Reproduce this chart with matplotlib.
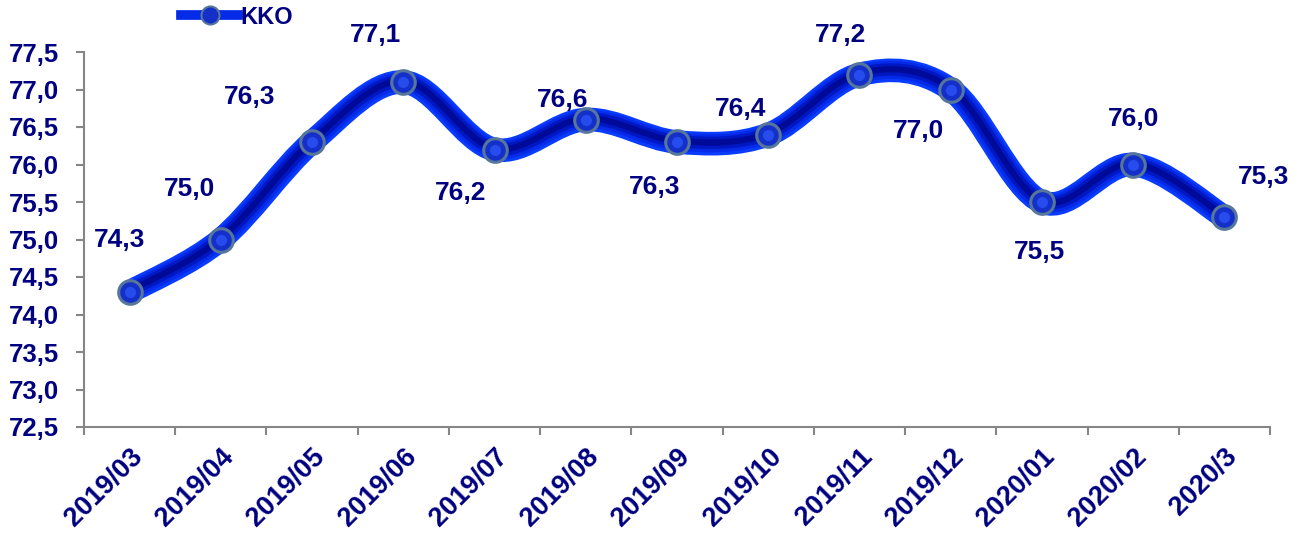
import numpy as np
import matplotlib.pyplot as plt
from matplotlib.path import Path
from matplotlib.patches import PathPatch
from matplotlib.lines import Line2D
import matplotlib.transforms as mtransforms

plt.rcParams['font.family'] = ['Liberation Sans', 'DejaVu Sans']

# data
months = ['2019/03', '2019/04', '2019/05', '2019/06', '2019/07', '2019/08', '2019/09',
          '2019/10', '2019/11', '2019/12', '2020/01', '2020/02', '2020/3']
kko = [74.3, 75.0, 76.3, 77.1, 76.2, 76.6, 76.3, 76.4, 77.2, 77.0, 75.5, 76.0, 75.3]
series_name = 'KKO'

# label offsets in pixels (dx, dy up)
lab_off = [(-10, 52), (-31, 50), (-62, 45), (-28, 47), (-34, -44), (-23, 20), (-22, -45),
           (-28, 25), (-19, 40), (-32, -41), (-2, -50), (0, 45), (39, 40)]

navy = '#000080'

fig = plt.figure(figsize=(13, 5.35), dpi=100)
ax = fig.add_axes([84/1300, 1 - 427/535, (1270 - 84)/1300, (427 - 52)/535])

x = np.arange(len(kko))
y = np.array(kko)

# smooth curve as cubic bezier (catmull-rom style control points)
verts = [(x[0], y[0])]
codes = [Path.MOVETO]
t = 1/6
for i in range(len(x) - 1):
    p0 = np.array([x[max(i-1, 0)], y[max(i-1, 0)]])
    p1 = np.array([x[i], y[i]])
    p2 = np.array([x[i+1], y[i+1]])
    p3 = np.array([x[min(i+2, len(x)-1)], y[min(i+2, len(x)-1)]])
    c1 = p1 + (p2 - p0) * t
    c2 = p2 - (p3 - p1) * t
    verts += [tuple(c1), tuple(c2), tuple(p2)]
    codes += [Path.CURVE4] * 3
path = Path(verts, codes)

# tube look: bright edges, dark core
tube = [(17, '#0a3cff', 0), (13, '#052ae8', 0.3), (9, '#0018c4', 0.6), (4.5, '#000a99', 0.8)]
for lw, col, off in tube:
    tr = mtransforms.offset_copy(ax.transData, fig=fig, x=0, y=off, units='points')
    ax.add_patch(PathPatch(path, facecolor='none', edgecolor=col, lw=lw,
                           capstyle='butt', joinstyle='round', transform=tr, zorder=2))

ax.plot(x, y, linestyle='none', marker='o', markersize=17, markerfacecolor='#1430c8',
        markeredgecolor='#56779a', markeredgewidth=2.2, zorder=4)
ax.plot(x, y, linestyle='none', marker='o', markersize=8, markerfacecolor='#2f58ff',
        markeredgecolor='none', alpha=0.7, zorder=5)

for xi, yi, (dx, dy) in zip(x, y, lab_off):
    ax.annotate(f'{yi:.1f}'.replace('.', ','), (xi, yi), xytext=(dx*0.72, dy*0.72),
                textcoords='offset points', ha='center', va='center',
                fontsize=19, fontweight='bold', color=navy, zorder=6)

ax.set_xlim(-0.5, len(kko) - 0.5)
ax.set_ylim(72.5, 77.5)
ax.set_yticks(np.arange(72.5, 77.51, 0.5))
ax.set_yticklabels([f'{v:.1f}'.replace('.', ',') for v in np.arange(72.5, 77.51, 0.5)])
ax.set_xticks(np.arange(-0.5, len(kko)), labels=[])
ax.set_xticks(x, labels=months, minor=True)
ax.tick_params(axis='x', which='minor', length=0, pad=12, labelsize=19.5)
shift = mtransforms.ScaledTranslation(-6/100, 0, fig.dpi_scale_trans)
for lab in ax.get_xticklabels(minor=True):
    lab.set_rotation(45)
    lab.set_ha('right')
    lab.set_rotation_mode('anchor')
    lab.set_transform(lab.get_transform() + shift)
ax.tick_params(which='both', colors='#868686', labelcolor=navy, width=1.5)
ax.tick_params(axis='y', labelsize=18.5, pad=12)
ax.tick_params(which='major', length=6)
for lab in ax.get_xticklabels(minor=True) + ax.get_yticklabels():
    lab.set_fontweight('bold')

for s in ['top', 'right']:
    ax.spines[s].set_visible(False)
for s in ['left', 'bottom']:
    ax.spines[s].set_color('#868686')
    ax.spines[s].set_linewidth(1.5)

h = Line2D([], [], color='#052ae8', lw=7, marker='o', markersize=13,
           markerfacecolor='#1430c8', markeredgecolor='#56779a', markeredgewidth=1.5)
fig.legend([h], [series_name], loc='center left', bbox_to_anchor=(172/1300, 1 - 17/535),
           frameon=False, handlelength=2.4, handletextpad=0.1, borderaxespad=0,
           prop={'weight': 'bold', 'size': 17}, labelcolor=navy)

fig.savefig('out.png', dpi=100)
